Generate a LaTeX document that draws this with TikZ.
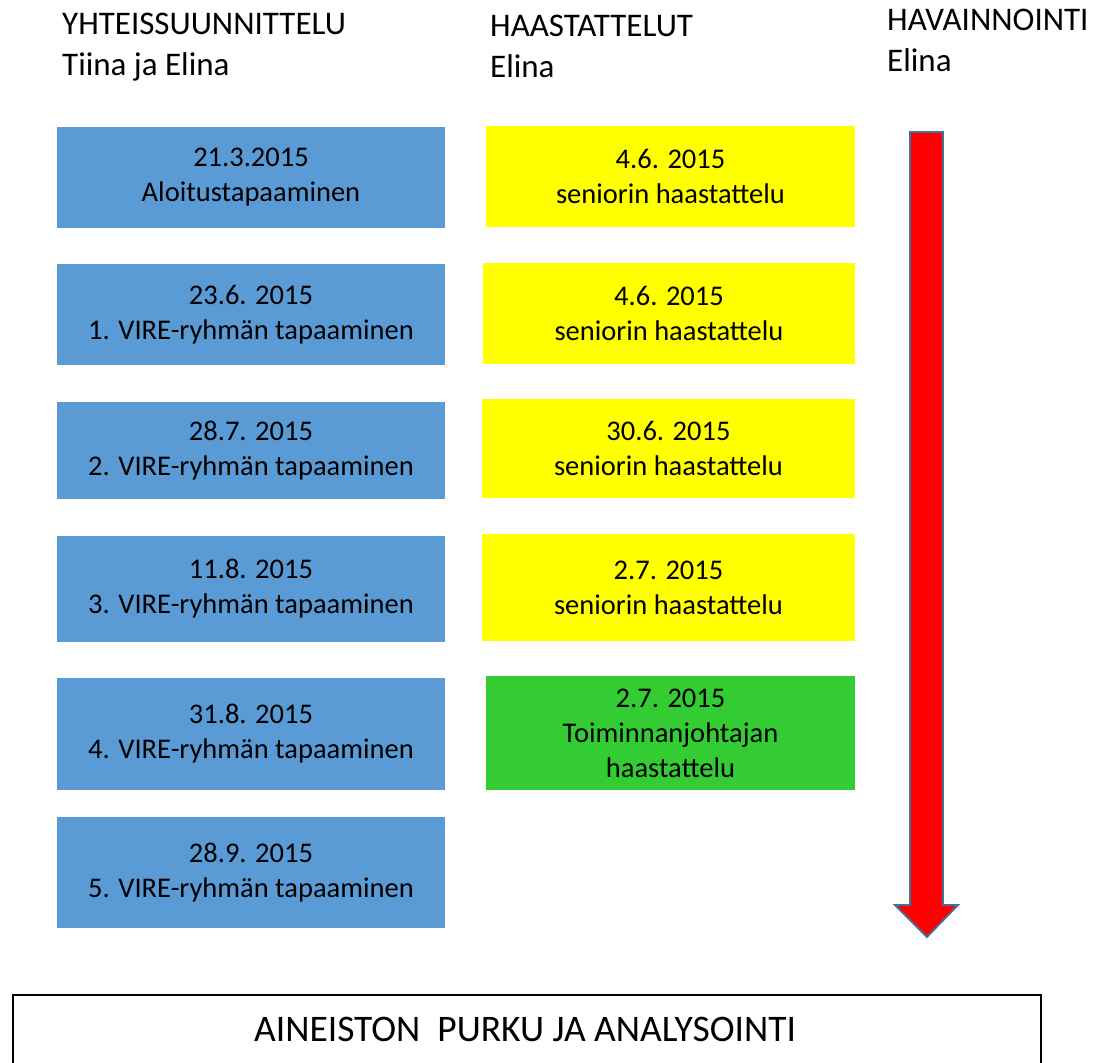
\documentclass[tikz,border=0pt]{standalone}
\usepackage{fontspec}
\setmainfont{Carlito}
\begin{document}
\begin{tikzpicture}[x=1pt,y=-1pt,
  boxtext/.style={font=\fontsize{28.5}{35}\selectfont, align=center, inner sep=0pt, text=black},
  bluebox/.style={boxtext, fill=planblue, minimum width=388pt},
  yellowbox/.style={boxtext, fill=talkyellow},
  greenbox/.style={boxtext, fill=talkgreen},
  headtext/.style={font=\fontsize{33}{40}\selectfont, anchor=base west, inner sep=0pt},
]
\definecolor{planblue}{HTML}{5B9BD5}
\definecolor{talkyellow}{HTML}{FFFF00}
\definecolor{talkgreen}{HTML}{33CC33}
\definecolor{arrowred}{HTML}{FF0000}
\definecolor{arrowedge}{HTML}{41719C}
\useasboundingbox (0,0) rectangle (1101,1063);
\clip (0,0) rectangle (1101,1063);

% column headings
\node[headtext] (h1a) at (62,34) {YHTEISSUUNNITTELU};
\node[headtext] (h1b) at (62,75) {Tiina ja Elina};
\node[headtext] (h2a) at (490,36) {HAASTATTELUT};
\node[headtext] (h2b) at (490,77) {Elina};
\node[headtext] (h3a) at (887,30) {HAVAINNOINTI};
\node[headtext] (h3b) at (887,71) {Elina};

% joint planning meetings
\node[bluebox, minimum height=101pt] (b1) at (251,177.5) {21.3.2015\\Aloitustapaaminen};
\node[bluebox, minimum height=101pt] (b2) at (251,314.5) {23.6. 2015\\1. VIRE-ryhmän tapaaminen};
\node[bluebox, minimum height=97pt]  (b3) at (251,450.5) {28.7. 2015\\2. VIRE-ryhmän tapaaminen};
\node[bluebox, minimum height=106pt] (b4) at (251,589)   {11.8. 2015\\3. VIRE-ryhmän tapaaminen};
\node[bluebox, minimum height=112pt] (b5) at (251,734)   {31.8. 2015\\4. VIRE-ryhmän tapaaminen};
\node[bluebox, minimum height=111pt] (b6) at (251,872.5) {28.9. 2015\\5. VIRE-ryhmän tapaaminen};

% interviews
\node[yellowbox, minimum width=369pt, minimum height=101pt] (y1) at (670.5,176.5) {4.6. 2015\\seniorin haastattelu};
\node[yellowbox, minimum width=372pt, minimum height=101pt] (y2) at (669,313.5)   {4.6. 2015\\seniorin haastattelu};
\node[yellowbox, minimum width=373pt, minimum height=99pt]  (y3) at (668.5,448.5) {30.6. 2015\\seniorin haastattelu};
\node[yellowbox, minimum width=373pt, minimum height=107pt] (y4) at (668.5,587.5) {2.7. 2015\\seniorin haastattelu};
\node[greenbox,  minimum width=369pt, minimum height=114pt] (g5) at (670.5,733)   {2.7. 2015\\Toiminnanjohtajan\\haastattelu};

% observation time arrow
\draw[line width=1.8pt, arrowedge, fill=arrowred, line join=miter]
  (910,132) -- (943,132) -- (943,905) -- (958,905) -- (927,937)
  -- (895,905) -- (910,905) -- cycle;

% analysis box
\node[draw=black, line width=1.5pt, minimum width=1028pt, minimum height=100pt,
      inner sep=0pt, anchor=north west] (out) at (12,994) {};
\node[font=\fontsize{37.5}{44}\selectfont, inner sep=0pt, anchor=base] (outtext) at (525,1041)
  {AINEISTON\ \ PURKU JA ANALYSOINTI};
\end{tikzpicture}
\end{document}
